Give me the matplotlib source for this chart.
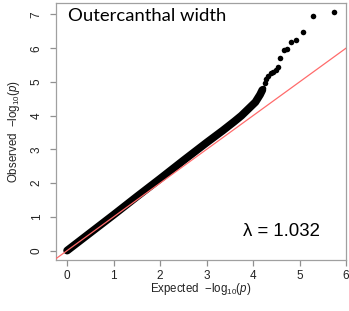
import matplotlib
matplotlib.use("Agg")
import matplotlib.pyplot as plt

plt.rcParams.update({"font.family": ["Liberation Sans", "DejaVu Sans"], "mathtext.fontset": "custom",
                     "mathtext.rm": "Liberation Sans", "mathtext.it": "Liberation Sans:italic"})

# dense body of the QQ curve (expected, observed)
body_x = [0, 0.5, 1.0, 1.5, 2.0, 2.5, 3.0, 3.35, 3.6, 3.75, 3.9, 4.05, 4.15, 4.2]
body_y = [0, 0.53, 1.06, 1.6, 2.13, 2.67, 3.2, 3.56, 3.83, 4.0, 4.2, 4.4, 4.62, 4.76]
# sparse tail points
tail_x = [4.22, 4.25, 4.28, 4.32, 4.38, 4.43, 4.49, 4.53, 4.59, 4.66, 4.72, 4.82, 4.92, 5.07, 5.29, 5.75]
tail_y = [4.83, 4.98, 5.09, 5.18, 5.25, 5.29, 5.36, 5.43, 5.71, 5.94, 5.97, 6.18, 6.23, 6.49, 6.95, 7.06]
lam = 1.032
title = "Outercanthal width"
xticks = [0, 1, 2, 3, 4, 5, 6]
yticks = [0, 1, 2, 3, 4, 5, 6, 7]

W, H = 349, 311
fig = plt.figure(figsize=(W/100, H/100), dpi=100)
ax = fig.add_axes([56/W, 1-260/H, 290/W, 257/H])
ax.plot(body_x, body_y, color="black", lw=5.6, solid_capstyle="round", zorder=2)
ax.scatter(tail_x, tail_y, s=16, color="black", lw=0, zorder=2)
ax.axline((0, 0), slope=1, color="#ff6b6b", lw=0.9, zorder=3)
ax.set_xlim(-0.24, 5.98); ax.set_ylim(-0.28, 7.34)
ax.set_xticks(xticks); ax.set_yticks(yticks)
for s in ax.spines.values(): s.set_color("#a0a0a0"); s.set_linewidth(0.9)
ax.tick_params(axis="both", colors="#909090", length=4, width=0.9, labelsize=8.5, labelcolor="#222222")
ax.tick_params(axis="x", pad=3.5)
ax.tick_params(axis="y", pad=5.5)
for t in ax.get_yticklabels(): t.set_rotation(90); t.set_va("center")
ax.text(0.043, 0.95, title, transform=ax.transAxes, fontsize=13.3, family="Lato", va="center", ha="left")
ax.text(0.91, 0.11, "\u03bb = %.3f" % lam, transform=ax.transAxes, fontsize=13.4, va="center", ha="right")
fig.text(201/W, 1-289/H, r"Expected  $-\mathrm{log}_{10}(\mathit{p})$", ha="center", va="center", fontsize=8.3, color="#222222")
fig.text(14/W, 1-131.5/H, r"Observed  $-\mathrm{log}_{10}(\mathit{p})$", ha="center", va="center", rotation=90, fontsize=8.3, color="#222222")
fig.savefig("out.png", dpi=100)
